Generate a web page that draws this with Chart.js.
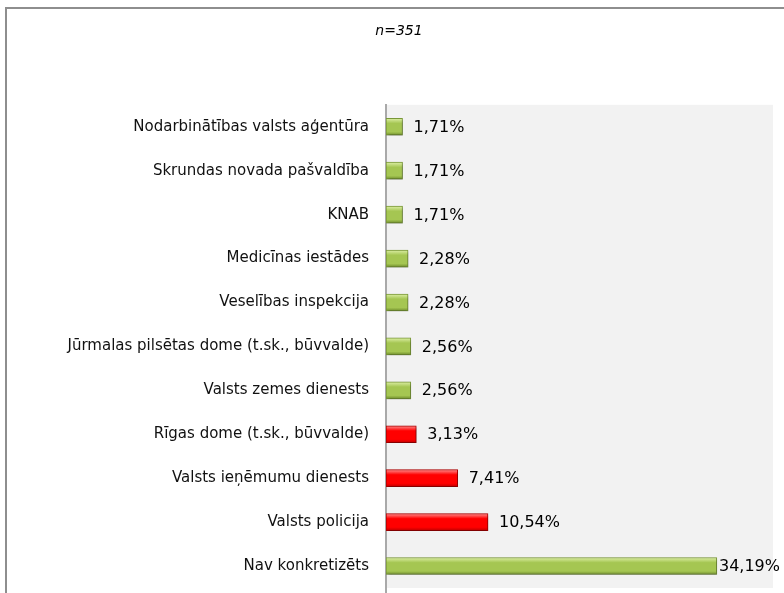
<!DOCTYPE html>
<html>
<head>
<meta charset="utf-8">
<script src="https://cdn.jsdelivr.net/npm/chart.js@4.4.1/dist/chart.umd.min.js"></script>
<style>
  html, body { margin: 0; padding: 0; background: #fff; overflow: hidden; }
  #frame { position: absolute; left: 5px; top: 7px; width: 820px; height: 640px; border: 2px solid #8e8e8e; box-sizing: border-box; }
  #wrap { position: absolute; left: 0; top: 0; width: 784px; height: 593px; }
  #c { display: block; width: 784px; height: 593px; }
</style>
</head>
<body>
<div id="frame"></div>
<div id="wrap"><canvas id="c" width="784" height="593"></canvas></div>
<script>
const categories = [
  "Nodarbinātības valsts aģentūra",
  "Skrundas novada pašvaldība",
  "KNAB",
  "Medicīnas iestādes",
  "Veselības inspekcija",
  "Jūrmalas pilsētas dome (t.sk., būvvalde)",
  "Valsts zemes dienests",
  "Rīgas dome (t.sk., būvvalde)",
  "Valsts ieņēmumu dienests",
  "Valsts policija",
  "Nav konkretizēts"
];
const values = [1.71, 1.71, 1.71, 2.28, 2.28, 2.56, 2.56, 3.13, 7.41, 10.54, 34.19];
const highlighted = [false, false, false, false, false, false, false, true, true, true, false];
const valueLabels = ["1,71%", "1,71%", "1,71%", "2,28%", "2,28%", "2,56%", "2,56%", "3,13%", "7,41%", "10,54%", "34,19%"];
const titleText = "n=351";

const GREEN = { top: "#ddefa6", mid: "#a5c652", bot: "#6f8d2c", border: "#7a9838" };
const RED = { top: "#ff9090", mid: "#ff0000", bot: "#c00000", border: "#b00000" };

function barFill(ctx) {
  const chart = ctx.chart;
  const pal = highlighted[ctx.dataIndex] ? RED : GREEN;
  const ys = chart.scales && chart.scales.y;
  if (!chart.chartArea || !ys) return pal.mid;
  const yc = ys.getPixelForValue(ctx.dataIndex);
  const h = 17;
  const g = chart.ctx.createLinearGradient(0, yc - h / 2, 0, yc + h / 2);
  g.addColorStop(0, pal.top);
  g.addColorStop(0.3, pal.mid);
  g.addColorStop(0.8, pal.mid);
  g.addColorStop(1, pal.bot);
  return g;
}

const plotBg = {
  id: "plotBg",
  beforeDraw(chart) {
    const a = chart.chartArea, c = chart.ctx;
    c.save();
    c.fillStyle = "#f2f2f2";
    c.fillRect(a.left, a.top, a.right - a.left, a.bottom - a.top);
    c.restore();
  },
  afterDraw(chart) {
    const a = chart.chartArea, c = chart.ctx;
    c.save();
    c.strokeStyle = "#a9a9a9";
    c.lineWidth = 2;
    c.beginPath();
    c.moveTo(a.left, a.bottom);
    c.lineTo(a.left, chart.height);
    c.stroke();
    c.restore();
  }
};

const barShadow = {
  id: "barShadow",
  beforeDatasetDraw(chart) {
    const c = chart.ctx;
    c.save();
    c.shadowColor = "rgba(0,0,0,0.35)";
    c.shadowBlur = 3;
    c.shadowOffsetX = 1;
    c.shadowOffsetY = 2;
  },
  afterDatasetDraw(chart) { chart.ctx.restore(); }
};

const valueLabelPlugin = {
  id: "valueLabels",
  afterDatasetsDraw(chart) {
    const c = chart.ctx;
    const meta = chart.getDatasetMeta(0);
    c.save();
    c.font = "16px 'DejaVu Sans'";
    c.fillStyle = "#000";
    c.textBaseline = "middle";
    c.textAlign = "left";
    meta.data.forEach((bar, i) => {
      const txt = valueLabels[i];
      const w = c.measureText(txt).width;
      let x = bar.x + 11;
      const limit = chart.width - 4;
      if (x + w > limit) x = limit - w;
      c.fillText(txt, x, bar.y + 1);
    });
    c.restore();
  }
};

new Chart(document.getElementById("c"), {
  type: "bar",
  data: {
    labels: categories,
    datasets: [{
      data: values,
      backgroundColor: barFill,
      borderColor: (ctx) => (highlighted[ctx.dataIndex] ? RED.border : GREEN.border),
      borderWidth: 1,
      borderSkipped: false,
      barThickness: 17
    }]
  },
  options: {
    indexAxis: "y",
    responsive: false,
    maintainAspectRatio: false,
    animation: false,
    events: [],
    layout: { padding: { left: 25, right: 11, top: 0, bottom: 5 } },
    plugins: {
      legend: { display: false },
      tooltip: { enabled: false },
      title: {
        display: true,
        text: titleText,
        color: "#000",
        font: { family: "'DejaVu Sans'", size: 14, style: "italic", weight: "normal", lineHeight: 1.2 },
        padding: { top: 23, bottom: 65 }
      }
    },
    scales: {
      x: { display: false, min: 0, max: 40 },
      y: {
        afterFit(scale) {
          scale.width = 361;
          scale.paddingTop = 0;
          scale.paddingBottom = 0;
        },
        grid: { display: false, drawTicks: false },
        border: { display: true, color: "#a9a9a9", width: 2 },
        ticks: {
          padding: 17,
          color: "#111",
          font: { family: "'DejaVu Sans'", size: 15 }
        }
      }
    }
  },
  plugins: [plotBg, barShadow, valueLabelPlugin]
});
</script>
</body>
</html>
